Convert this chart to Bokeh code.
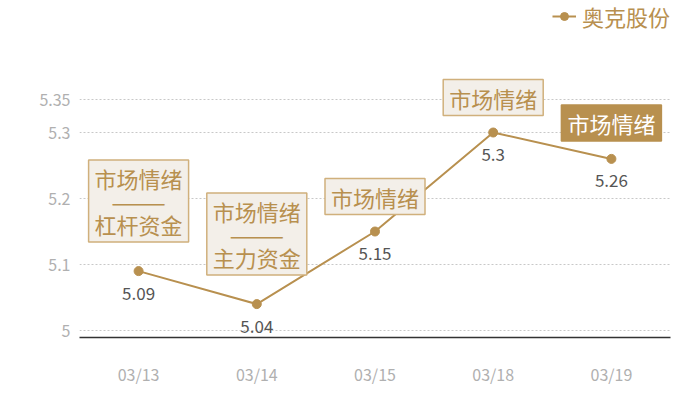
from bokeh.plotting import figure
from bokeh.models import (ColumnDataSource, FixedTicker, NumeralTickFormatter,
                          Legend, LegendItem, Range1d)
from bokeh.core.properties import value
from bokeh.embed import file_html
from bokeh.resources import INLINE

# ---- data ----
dates = ["03/13", "03/14", "03/15", "03/18", "03/19"]
prices = [5.09, 5.04, 5.15, 5.30, 5.26]
price_labels = ["5.09", "5.04", "5.15", "5.3", "5.26"]
note_dates = ["03/13", "03/14", "03/15", "03/18"]
note_texts = ["市场情绪\n———\n杠杆资金", "市场情绪\n———\n主力资金", "市场情绪", "市场情绪"]
highlight_dates = ["03/19"]
highlight_texts = ["市场情绪"]
y_ticks = [5, 5.1, 5.2, 5.3, 5.35]
series_name = "奥克股份"

# ---- style ----
GOLD = "#b8904f"
FONT = "Noto Sans CJK SC"

price_of = dict(zip(dates, prices))

p = figure(width=692, height=392, x_range=dates, y_range=Range1d(4.9894, 5.5),
           output_backend="svg", toolbar_location=None,
           min_border_left=79, min_border_right=22, min_border_top=0, min_border_bottom=55)
p.outline_line_color = None
p.background_fill_color = "white"
p.border_fill_color = "white"

p.xgrid.grid_line_color = None
p.ygrid.grid_line_color = "#c8c8c8"
p.ygrid.grid_line_dash = "2 2"
p.ygrid.grid_line_width = 1

p.yaxis.ticker = FixedTicker(ticks=y_ticks)
p.yaxis.formatter = NumeralTickFormatter(format="0.[00]")
p.yaxis.axis_line_color = None
p.yaxis.major_tick_line_color = None
p.yaxis.minor_tick_line_color = None
p.yaxis.major_tick_out = 0
p.yaxis.major_label_standoff = 9
p.yaxis.major_label_text_color = "#b0b0b0"
p.yaxis.major_label_text_font = FONT
p.yaxis.major_label_text_font_size = "16px"

p.xaxis.axis_line_color = "#333333"
p.xaxis.axis_line_width = 1.5
p.xaxis.major_tick_line_color = None
p.xaxis.minor_tick_line_color = None
p.xaxis.major_tick_out = 0
p.xaxis.major_label_standoff = 24
p.xaxis.major_label_text_color = "#b0b0b0"
p.xaxis.major_label_text_font = FONT
p.xaxis.major_label_text_font_size = "16px"

src = ColumnDataSource(dict(date=dates, price=prices, label=price_labels))
ln = p.line("date", "price", source=src, line_color=GOLD, line_width=2)
pt = p.scatter("date", "price", source=src, size=9, fill_color=GOLD, line_color=GOLD)

p.text("date", "price", text="label", source=src, text_align="center", text_baseline="middle",
       y_offset=22, text_color="#555555", text_font=value(FONT), text_font_size="17px")

nsrc = ColumnDataSource(dict(date=note_dates, price=[price_of[d] for d in note_dates],
                             text=note_texts,
                             off=[-29 if "\n" in t else -17 for t in note_texts]))
p.text("date", "price", text="text", source=nsrc, text_align="center", text_baseline="bottom",
       y_offset="off", text_color=GOLD, text_font=value(FONT), text_font_size="22px",
       text_line_height=0.72, background_fill_color="#f3efe9", border_line_color="#d0b07c",
       border_line_width=1.5, padding=(6, 2))

hsrc = ColumnDataSource(dict(date=highlight_dates, price=[price_of[d] for d in highlight_dates],
                             text=highlight_texts))
p.text("date", "price", text="text", source=hsrc, text_align="center", text_baseline="bottom",
       y_offset=-18, text_color="white", text_font=value(FONT), text_font_size="22px",
       text_line_height=0.72, background_fill_color=GOLD, border_line_color=GOLD,
       border_line_width=1.5, padding=(6, 2))

legend = Legend(items=[LegendItem(label=series_name, renderers=[ln, pt])],
                location="top_right", border_line_color=None, background_fill_alpha=0,
                label_text_color=GOLD, label_text_font=FONT, label_text_font_size="22px",
                glyph_width=24, margin=0, padding=2, label_standoff=6)
p.add_layout(legend)

open("out.html", "w").write(file_html(p, INLINE))
